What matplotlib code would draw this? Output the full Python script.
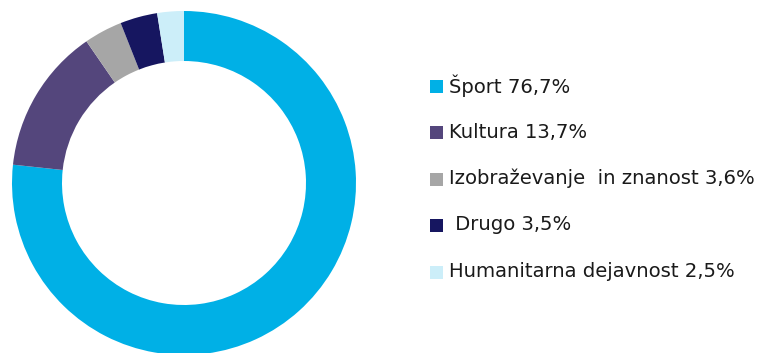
import matplotlib
matplotlib.use("Agg")
import matplotlib.pyplot as plt
from matplotlib.patches import Rectangle

categories = ["Šport", "Kultura", "Izobraževanje  in znanost", " Drugo", "Humanitarna dejavnost"]
shares = [76.7, 13.7, 3.6, 3.5, 2.5]
colors = ["#00B0E6", "#54467C", "#A6A6A6", "#161660", "#CCEEF9"]
labels = [f"{c} {str(v).replace('.', ',')}%" for c, v in zip(categories, shares)]

W, H = 757, 353
fig = plt.figure(figsize=(W / 100, H / 100), dpi=100)

# donut: centre (184, 183) px from top-left, outer radius 172 px
cx, cy, r = 184, 183, 172
ax = fig.add_axes([(cx - r) / W, (H - cy - r) / H, 2 * r / W, 2 * r / H])
ax.pie(shares, colors=colors, startangle=90, counterclock=False, radius=1,
       wedgeprops=dict(width=50 / 172, linewidth=0))
ax.set_xlim(-1, 1)
ax.set_ylim(-1, 1)
ax.set_aspect("equal")
ax.axis("off")

# legend drawn as swatches + text
row0, step = 86, 46.5
for i, (lab, col) in enumerate(zip(labels, colors)):
    yc = row0 + i * step
    fig.patches.append(Rectangle((430 / W, (H - yc - 6.5) / H), 13 / W, 13 / H,
                                 transform=fig.transFigure, facecolor=col,
                                 edgecolor="none"))
    fig.text(449 / W, (H - yc + 0.5) / H, lab, fontsize=14.1, family="DejaVu Sans",
             color="#1a1a1a", va="center", ha="left")

fig.savefig("out.png", dpi=100)
